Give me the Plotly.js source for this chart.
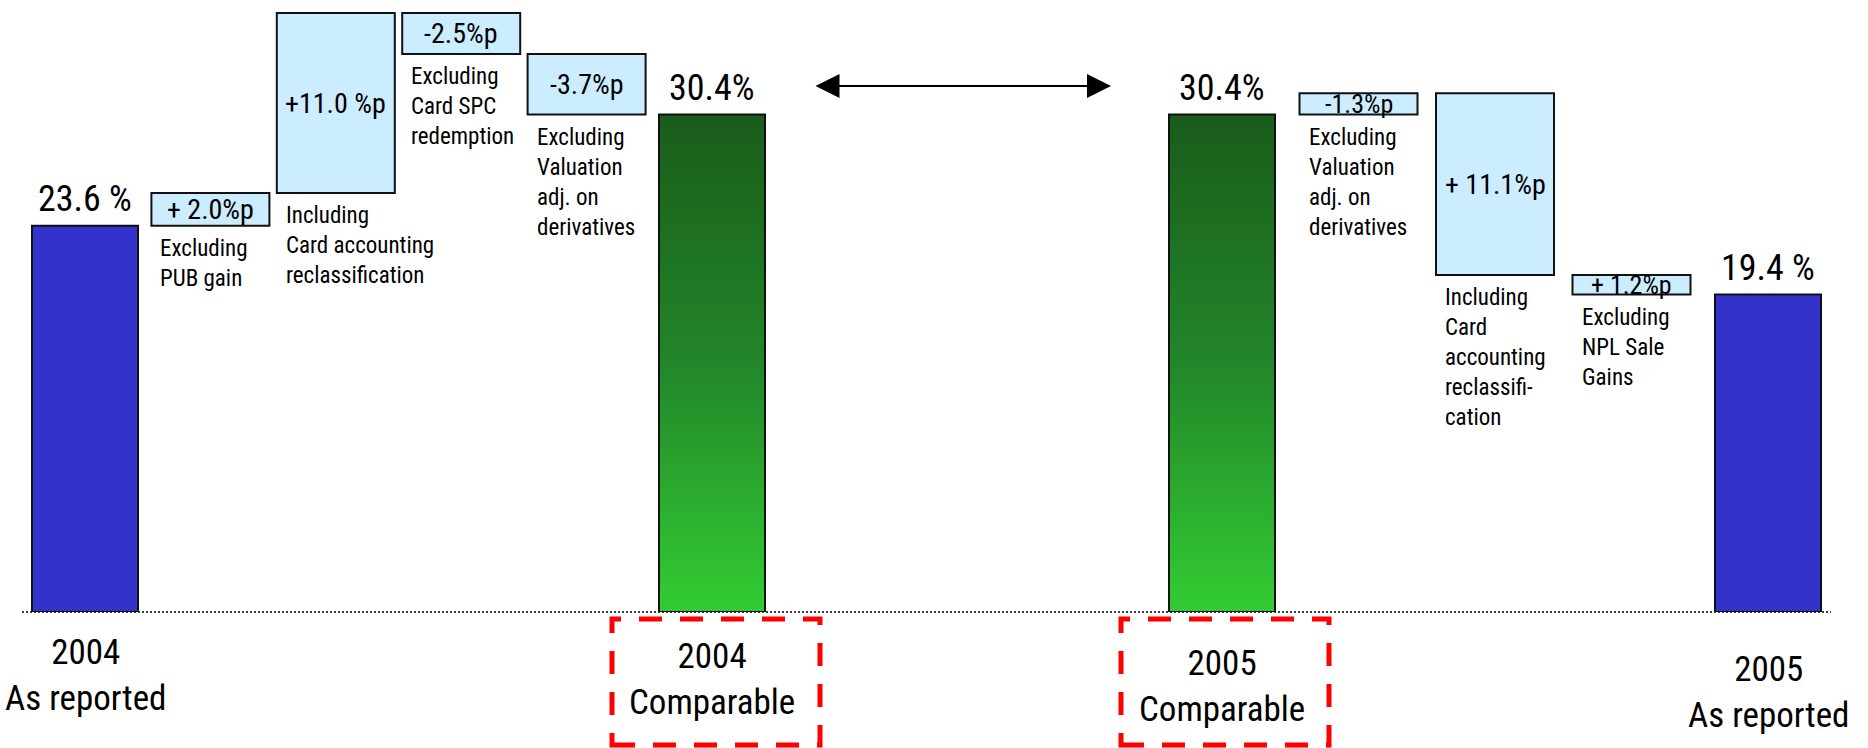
<!DOCTYPE html>
<html>
<head>
<meta charset="utf-8">
<script src="https://cdn.plot.ly/plotly-3.0.1.min.js"></script>
<style>
  html, body { margin: 0; padding: 0; background: #ffffff; }
  #chart { width: 1868px; height: 748px; }
</style>
</head>
<body>
<div id="chart"></div>
<script>
// Return on equity bridge: 2004 as reported -> 2004 comparable, 2005 comparable -> 2005 as reported

// End columns (left to right)
const endCategories = ['2004<br>As reported', '2004<br>Comparable', '2005<br>Comparable', '2005<br>As reported'];
const endValues = [23.6, 30.4, 30.4, 19.4];
const endValueLabels = ['23.6 %', '30.4%', '30.4%', '19.4 %'];

// Adjustments between 2004 as reported and 2004 comparable
const steps2004 = [2.0, 11.0, -2.5, -3.7];
const steps2004Labels = ['+ 2.0%p', '+11.0 %p', '-2.5%p', '-3.7%p'];
const steps2004Notes = [
  'Excluding<br>PUB gain',
  'Including<br>Card accounting<br>reclassification',
  'Excluding<br>Card SPC<br>redemption',
  'Excluding<br>Valuation<br>adj. on<br>derivatives'
];

// Adjustments between 2005 comparable and 2005 as reported
const steps2005 = [-1.3, 11.1, 1.2];
const steps2005Labels = ['-1.3%p', '+ 11.1%p', '+ 1.2%p'];
const steps2005Notes = [
  'Excluding<br>Valuation<br>adj. on<br>derivatives',
  'Including<br>Card<br>accounting<br>reclassifi-<br>cation',
  'Excluding<br>NPL Sale<br>Gains'
];

// ---- layout constants ----
const W = 1868, H = 748;
const BASE_PX = 612;              // pixel row of the zero line
const Y_TOP = 37.4;               // value at the top edge of the plotting area
const LEFT_PX = [85, 712];        // centres of first / last column, 2004 half
const RIGHT_PX = [1222, 1768];    // centres of first / last column, 2005 half
const END_W = 106, STEP_W = 118;  // column widths in px
const FONT = '"Liberation Sans Narrow", "Arial Narrow", "Roboto Condensed", "DejaVu Sans Condensed", "Liberation Sans", Arial, sans-serif';
const BLUE = '#3333CC', STEP_FILL = '#CCECFF', EDGE = '#111111';
const f = (size) => ({ family: FONT, size: size, color: '#000' });

const nLeft = steps2004.length + 2;
const nRight = steps2005.length + 2;
const stepL = (LEFT_PX[1] - LEFT_PX[0]) / (nLeft - 1);
const stepR = (RIGHT_PX[1] - RIGHT_PX[0]) / (nRight - 1);
const domL = [(LEFT_PX[0] - stepL / 2) / W, (LEFT_PX[1] + stepL / 2) / W];
const domR = [(RIGHT_PX[0] - stepR / 2) / W, (RIGHT_PX[1] + stepR / 2) / W];
const pxPerUnit = BASE_PX / Y_TOP;
const pxToPaperY = py => (BASE_PX - py) / BASE_PX;
const r1 = v => Math.round(v * 10) / 10;

// floating boxes: 2004 runs forward from the reported figure
const boxes2004 = [];
let level = endValues[0];
steps2004.forEach(d => {
  const next = r1(level + d);
  boxes2004.push({ lo: Math.min(level, next), hi: Math.max(level, next) });
  level = next;
});
// 2005 runs backward from the reported figure
const boxes2005 = new Array(steps2005.length);
level = endValues[3];
for (let i = steps2005.length - 1; i >= 0; i--) {
  const next = r1(level + steps2005[i]);
  boxes2005[i] = { lo: Math.min(level, next), hi: Math.max(level, next) };
  level = next;
}

const idxL = steps2004.map((_, i) => i + 1);
const idxR = steps2005.map((_, i) => i + 1);
const compL = nLeft - 1;   // 2004 comparable column
const compR = 0;           // 2005 comparable column
const repR = nRight - 1;   // 2005 reported column

function gradientBar(xc, halfW, v, xa) {
  return {
    type: 'scatter', mode: 'lines', xaxis: xa, yaxis: 'y',
    x: [xc - halfW, xc + halfW, xc + halfW, xc - halfW, xc - halfW],
    y: [0, 0, v, v, 0],
    fill: 'toself', fillcolor: '#239023',
    fillgradient: { type: 'vertical', colorscale: [[0, '#33CC33'], [0.5, '#22862A'], [1, '#1A5C1A']] },
    line: { color: EDGE, width: 2 },
    hoverinfo: 'skip', showlegend: false
  };
}

const traces = [
  { type: 'bar', xaxis: 'x', yaxis: 'y', x: [0], y: [endValues[0]], width: [END_W / stepL],
    marker: { color: BLUE, line: { color: EDGE, width: 2 } }, hoverinfo: 'skip' },
  { type: 'bar', xaxis: 'x', yaxis: 'y', x: idxL,
    y: boxes2004.map(b => r1(b.hi - b.lo)), base: boxes2004.map(b => b.lo),
    width: idxL.map(() => STEP_W / stepL),
    marker: { color: STEP_FILL, line: { color: EDGE, width: 2 } }, hoverinfo: 'skip' },
  gradientBar(compL, END_W / stepL / 2, endValues[1], 'x'),
  gradientBar(compR, END_W / stepR / 2, endValues[2], 'x2'),
  { type: 'bar', xaxis: 'x2', yaxis: 'y', x: idxR,
    y: boxes2005.map(b => r1(b.hi - b.lo)), base: boxes2005.map(b => b.lo),
    width: idxR.map(() => STEP_W / stepR),
    marker: { color: STEP_FILL, line: { color: EDGE, width: 2 } }, hoverinfo: 'skip' },
  { type: 'bar', xaxis: 'x2', yaxis: 'y', x: [repR], y: [endValues[3]], width: [END_W / stepR],
    marker: { color: BLUE, line: { color: EDGE, width: 2 } }, hoverinfo: 'skip' }
];

const annotations = [];
const txt = (o) => Object.assign({ showarrow: false, borderpad: 1 }, o);

// value labels above the end columns
const endCols = [{ x: 0, xa: 'x' }, { x: compL, xa: 'x' }, { x: compR, xa: 'x2' }, { x: repR, xa: 'x2' }];
endCols.forEach((c, i) => {
  annotations.push(txt({
    xref: c.xa, yref: 'y', x: c.x, y: endValues[i], yanchor: 'bottom', yshift: 4,
    text: endValueLabels[i], font: f(36)
  }));
});

// category labels under the zero line
const catTopPx = [630, 634, 641, 647];
endCols.forEach((c, i) => {
  annotations.push(txt({
    xref: c.xa, yref: 'paper', x: c.x, y: pxToPaperY(catTopPx[i]), yanchor: 'top',
    text: endCategories[i], font: f(35)
  }));
});

// labels inside and notes under the adjustment boxes
function boxLabels(boxes, labels, notes, idx, xa, step) {
  boxes.forEach((b, i) => {
    const hPx = (b.hi - b.lo) * pxPerUnit;
    annotations.push(txt({
      xref: xa, yref: 'y', x: idx[i], y: (b.lo + b.hi) / 2, yanchor: 'middle',
      text: labels[i], font: f(hPx < 30 ? 26 : 28)
    }));
    annotations.push(txt({
      xref: xa, yref: 'y', x: idx[i] - STEP_W / step / 2, xanchor: 'left', xshift: 7,
      y: b.lo, yanchor: 'top', yshift: -7, align: 'left',
      text: notes[i], font: f(23)
    }));
  });
}
boxLabels(boxes2004, steps2004Labels, steps2004Notes, idxL, 'x', stepL);
boxLabels(boxes2005, steps2005Labels, steps2005Notes, idxR, 'x2', stepR);

// double-headed arrow between the two comparable columns
const ARROW_PX = [814, 1111], ARROW_Y = 86;
annotations.push({
  xref: 'paper', yref: 'paper', x: ARROW_PX[1] / W, y: pxToPaperY(ARROW_Y),
  axref: 'pixel', ayref: 'pixel', ax: -(ARROW_PX[1] - ARROW_PX[0]), ay: 0,
  text: '', showarrow: true, arrowside: 'end+start',
  arrowhead: 2, startarrowhead: 2, arrowsize: 2.4, startarrowsize: 2.4,
  arrowwidth: 2, arrowcolor: '#000', standoff: 0, startstandoff: 0
});

// dashed frames around the comparable labels
const FRAME_HALF = 104, FRAME_TOP = 619, FRAME_BOTTOM = 745;
const framePx = [LEFT_PX[0] + compL * stepL + 4, RIGHT_PX[0] + compR * stepR + 3];
const shapes = framePx.map(cx => ({
  type: 'rect', xref: 'paper', yref: 'paper',
  x0: (cx - FRAME_HALF) / W, x1: (cx + FRAME_HALF) / W,
  y0: pxToPaperY(FRAME_BOTTOM), y1: pxToPaperY(FRAME_TOP),
  line: { color: '#FF0000', width: 5, dash: '23px,18px' }, fillcolor: 'rgba(0,0,0,0)'
}));
// dotted zero line
shapes.push({
  type: 'line', xref: 'paper', yref: 'paper', x0: 22 / W, x1: 1831 / W, y0: 0, y1: 0,
  line: { color: '#000', width: 1.5, dash: '2px,2px' }, layer: 'above'
});

const axisOff = { showgrid: false, zeroline: false, showline: false, showticklabels: false, ticks: '', fixedrange: true };
const layout = {
  width: W, height: H,
  margin: { l: 0, r: 0, t: 0, b: H - BASE_PX, pad: 0 },
  paper_bgcolor: '#ffffff', plot_bgcolor: 'rgba(0,0,0,0)',
  showlegend: false, barmode: 'overlay',
  font: { family: FONT, color: '#000' },
  xaxis: Object.assign({ domain: domL, range: [-0.5, nLeft - 0.5] }, axisOff),
  xaxis2: Object.assign({ domain: domR, range: [-0.5, nRight - 0.5], anchor: 'y' }, axisOff),
  yaxis: Object.assign({ range: [0, Y_TOP] }, axisOff),
  annotations: annotations,
  shapes: shapes
};

Plotly.newPlot('chart', traces, layout, { displayModeBar: false, staticPlot: true });
</script>
</body>
</html>
